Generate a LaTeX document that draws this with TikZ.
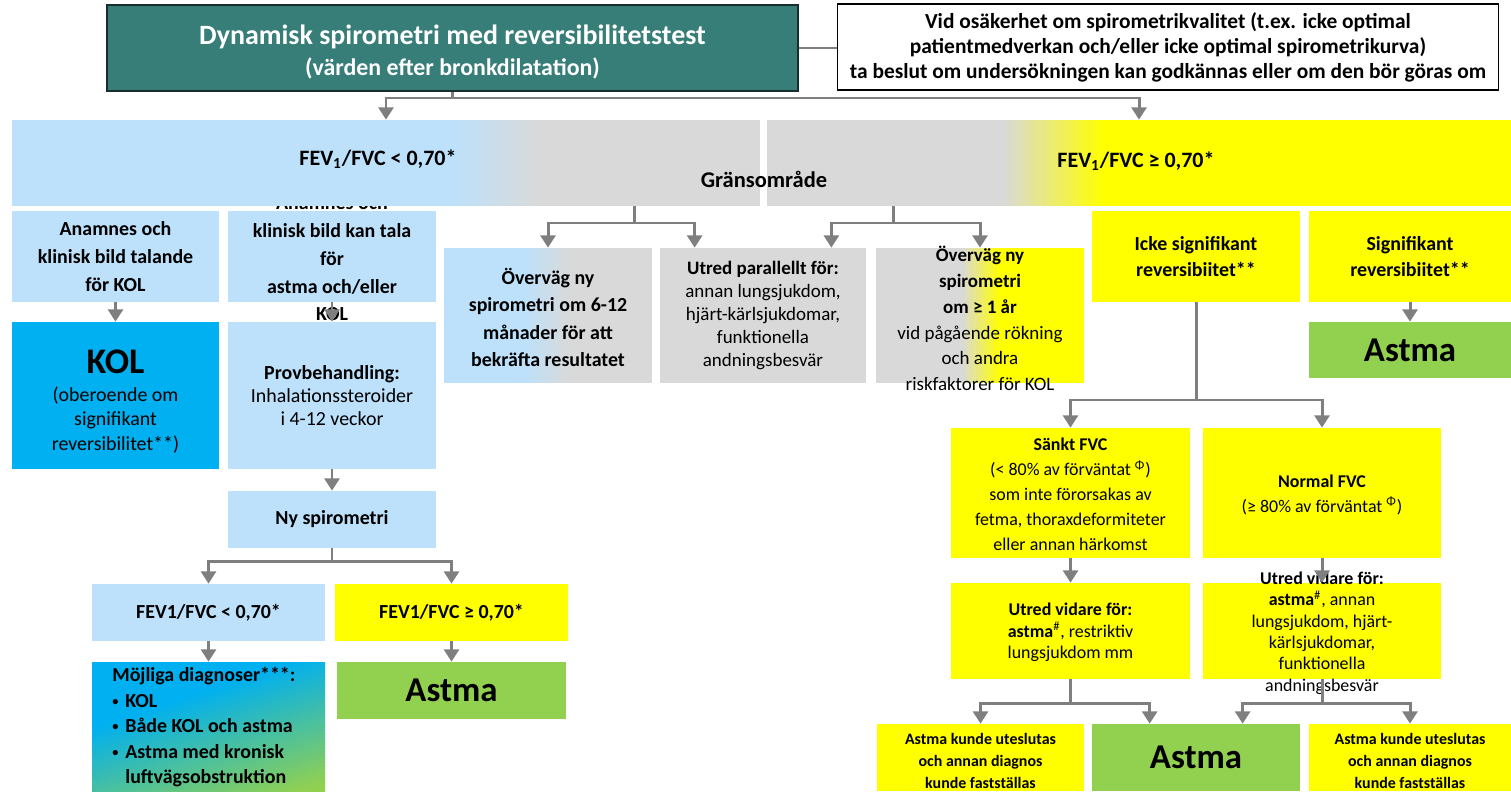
\documentclass[tikz,border=0pt]{standalone}
\usepackage{fontspec}
\setmainfont{Carlito}
\usetikzlibrary{arrows.meta,calc}

\definecolor{teal1}{RGB}{55,125,120}
\definecolor{tealdk}{RGB}{25,45,45}
\definecolor{lblue}{RGB}{189,225,251}
\definecolor{lgray}{RGB}{217,217,217}
\definecolor{kolblue}{RGB}{0,176,240}
\definecolor{ggreen}{RGB}{146,208,80}
\definecolor{yel}{RGB}{255,255,0}
\definecolor{agray}{RGB}{127,127,127}

\newcommand\fsz[2]{\fontsize{#1}{#2}\selectfont}
% horizontal colour ramp from #5 (left) to #6 (right) over a rectangle
\newcommand\hramp[6]{%
  \foreach \k in {0,...,23}{%
    \pgfmathsetmacro\xa{#1+(#3-#1)*\k/24}%
    \pgfmathsetmacro\xb{min(#3,#1+(#3-#1)*(\k+1.4)/24)}%
    \pgfmathsetmacro\mx{(\k+0.5)*100/24}%
    \fill[#6!\mx!#5] (\xa,#2) rectangle (\xb,#4);%
  }}
\newcommand\bul{\makebox[0.26cm][l]{\raisebox{1.2pt}{\fsz{7}{7}\textbullet}}}

\tikzset{
  box/.style={rectangle, inner sep=0pt, align=center, text=black},
  sz/.style 2 args={minimum width=#1*0.02cm, minimum height=#2*0.02cm},
  bl/.style={box, fill=lblue},
  yl/.style={box, fill=yel},
  gr/.style={box, fill=ggreen, font=\fsz{19.8}{22}\bfseries},
  conn/.style={draw=agray, line width=1.7pt},
  arr/.style={conn, -{Triangle[width=8.5pt,length=7pt]}},
  txt/.style={align=center, inner sep=0pt}
}

\begin{document}
\begin{tikzpicture}[x=0.02cm, y=-0.02cm]
\useasboundingbox (0,0) rectangle (1511,791);

% ---------- header ----------
\node[box, fill=teal1, draw=tealdk, line width=1pt, sz={691}{86}] (top) at (452.5,48) {};
\node[txt, text=white, font=\fsz{15.9}{17.6}\bfseries] (topt) at (452.5,52)
  {Dynamisk spirometri med reversibilitetstest\\{\fsz{13.6}{17.6}(värden efter bronkdilatation)}};
\node[box, fill=white, draw=black, line width=1pt, sz={661}{86},
      font=\fsz{12.2}{14.2}\bfseries] (note) at (1168,47)
  {Vid osäkerhet om spirometrikvalitet (t.ex. icke optimal\\
   patientmedverkan och/eller icke optimal spirometrikurva)\\
   ta beslut om undersökningen kan godkännas eller om den bör göras om};

% ---------- left column ----------
\node[bl, sz={207}{91}, font=\fsz{11.34}{16.1}\bfseries] (a1) at (115.5,256.5)
  {Anamnes och\\klinisk bild talande\\för KOL};
\node[bl, sz={208}{91}] (a2) at (332,256.5) {};
\node[txt, font=\fsz{11.34}{15.8}\bfseries] (a2t) at (332,258.5)
  {Anamnes och\\klinisk bild kan tala\\för\\astma och/eller\\KOL};

\node[box, fill=kolblue, sz={207}{147}] (kol) at (115.5,395.5) {};
\node[txt, font=\fsz{11.34}{13.9}] (kolt) at (115.5,401.5)
  {{\fsz{20.5}{20}\bfseries KOL}\\[2pt](oberoende om\\signifikant\\reversibilitet**)};
\node[bl, sz={208}{147}, font=\fsz{11.34}{13.3}] (prov) at (332,395.5)
  {\textbf{Provbehandling:}\\Inhalationssteroider\\i 4-12 veckor};
\node[bl, sz={208}{57}, font=\fsz{11.34}{15}\bfseries] (ny) at (332,519.5) {Ny spirometri};

\node[bl, sz={233}{57}, font=\fsz{11.34}{15}\bfseries] (fl) at (208.5,612.5) {FEV1/FVC < 0,70*};
\node[yl, sz={233}{57}, font=\fsz{11.34}{15}\bfseries] (fg) at (451.5,612.5) {FEV1/FVC ≥ 0,70*};

% diagonal blue-to-green fill of the diagnosis box
\begin{scope}
  \clip (92,662) rectangle (325,791);
  \foreach \k in {0,...,59}{
    \pgfmathsetmacro\sa{655+\k*3.4}
    \pgfmathsetmacro\sb{\sa+5}
    \pgfmathsetmacro\mixg{(\k+0.5)/60<0.32 ? 0 : min(100,((\k+0.5)/60-0.32)/0.62*100)}
    \fill[ggreen!\mixg!kolblue]
      ({\sa*0.316-400*0.949},{\sa*0.949+400*0.316}) --
      ({\sa*0.316+400*0.949},{\sa*0.949-400*0.316}) --
      ({\sb*0.316+400*0.949},{\sb*0.949-400*0.316}) --
      ({\sb*0.316-400*0.949},{\sb*0.949+400*0.316}) -- cycle;
  }
\end{scope}
\node[box, sz={233}{129}] (mojl) at (208.5,726.5) {};
\node[anchor=west, align=left, inner sep=0pt, font=\fsz{11.34}{14.5}\bfseries] (mojlt) at (112,727.5)
  {Möjliga diagnoser***:\\
   \bul KOL\\
   \bul Både KOL och astma\\
   \bul Astma med kronisk\\
   \hspace*{0.26cm}luftvägsobstruktion};
\node[gr, sz={229}{57}] (astL) at (451.5,690.5) {Astma};

% ---------- middle column ----------
\fill[lblue] (444,248) rectangle (525,383);
\fill[lgray] (569,248) rectangle (652,383);
\hramp{524}{248}{570}{383}{lblue}{lgray}
\node[box, sz={208}{135}] (mid1) at (548,315.5) {};
\node[txt, font=\fsz{11.34}{15.6}\bfseries] (mid1t) at (548,317.5)
  {Överväg ny\\spirometri om 6-12\\månader för att\\bekräfta resultatet};

\node[box, fill=lgray, sz={206}{135}, font=\fsz{10.8}{13.2}] (mid2) at (763,315.5)
  {\textbf{Utred parallellt för:}\\annan lungsjukdom,\\hjärt-kärlsjukdomar,\\funktionella\\andningsbesvär};

\fill[lgray] (876,248) rectangle (963,383);
\fill[yel] (999,248) rectangle (1084,383);
\hramp{962}{248}{1000}{383}{lgray}{yel}
\node[box, sz={208}{135}] (mid3) at (980,315.5) {};
\node[txt, font=\fsz{10.8}{14.7}] (mid3t) at (980,318.5)
  {\textbf{Överväg ny}\\\textbf{spirometri}\\\textbf{om ≥ 1 år}\\vid pågående rökning\\och andra\\riskfaktorer för KOL};

% ---------- right column ----------
\node[yl, sz={208}{91}, font=\fsz{11.34}{14.7}\bfseries] (icke) at (1196,256.5)
  {Icke signifikant\\reversibiitet**};
\node[yl, sz={202}{91}, font=\fsz{11.34}{14.7}\bfseries] (sig) at (1410,256.5)
  {Signifikant\\reversibiitet**};
\node[gr, sz={202}{56}] (astR) at (1410,350) {Astma};

\node[yl, sz={239}{130}] (sankt) at (1070.5,493) {};
\node[txt, font=\fsz{10.2}{14.2}] (sanktt) at (1070.5,494.5)
  {\textbf{Sänkt FVC}\\(< 80\% av förväntat \textsuperscript{Φ})\\som inte förorsakas av\\fetma, thoraxdeformiteter\\eller annan härkomst};
\node[yl, sz={238}{130}] (norm) at (1322,493) {};
\node[txt, font=\fsz{10.2}{14.2}] (normt) at (1322,494.5)
  {\textbf{Normal FVC}\\(≥ 80\% av förväntat \textsuperscript{Φ})};

\node[yl, sz={239}{96}] (uv1) at (1070.5,631) {};
\node[txt, font=\fsz{10.2}{12.2}] (uv1t) at (1070.5,632.5)
  {\textbf{Utred vidare för:}\\\textbf{astma}\textsuperscript{\#}, restriktiv\\lungsjukdom mm};
\node[yl, sz={238}{96}] (uv2) at (1322,631) {};
\node[txt, font=\fsz{10.2}{12.2}] (uv2t) at (1322,633)
  {\textbf{Utred vidare för:}\\\textbf{astma}\textsuperscript{\#}, annan\\lungsjukdom, hjärt-\\kärlsjukdomar,\\funktionella\\andningsbesvär};

\node[yl, sz={207}{67}] (botL) at (980.5,757.5) {};
\node[txt, font=\fsz{9.07}{12.5}\bfseries] (botLt) at (980.5,760.5)
  {Astma kunde uteslutas\\och annan diagnos\\kunde fastställas};
\node[gr, sz={208}{67}] (astB) at (1196,757.5) {Astma};
\node[yl, sz={202}{67}] (botR) at (1410,757.5) {};
\node[txt, font=\fsz{9.07}{12.5}\bfseries] (botRt) at (1410,760.5)
  {Astma kunde uteslutas\\och annan diagnos\\kunde fastställas};

% ---------- result band ----------
\fill[lblue] (12,120) rectangle (451,206);
\fill[lgray] (539,120) rectangle (760,206);
\hramp{450}{120}{540}{206}{lblue}{lgray}
\fill[lgray] (767,120) rectangle (1005,206);
\fill[yel] (1103,120) rectangle (1511,206);
\hramp{1004}{120}{1104}{206}{lgray}{yel}
\node[box, sz={748}{86}] (bandL) at (386,163) {};
\node[box, sz={744}{86}] (bandR) at (1139,163) {};
\node[txt, font=\fsz{12.5}{14}\bfseries] (tL) at (378,159) {FEV\textsubscript{1}/FVC < 0,70*};
\node[txt, font=\fsz{12.8}{14}\bfseries] (tG) at (764,179) {Gränsområde};
\node[txt, font=\fsz{12.5}{14}\bfseries] (tR) at (1136,161) {FEV\textsubscript{1}/FVC ≥ 0,70*};

% ---------- connectors ----------
\draw[draw=agray, line width=1pt] (top.east) -- (top.east -| note.west);
\coordinate (j0) at (452.5,98);
\draw[conn] (top.south) -- (j0);
\draw[arr] (j0) -| (bandL.north);
\draw[arr] (j0) -| (bandR.north);

\coordinate (g1) at (634,206);
\coordinate (g1j) at (634,223);
\draw[conn] (g1) -- (g1j);
\draw[arr] (g1j) -| (mid1.north);
\draw[arr] (g1j) -| ($(mid2.north west)+(35,0)$);
\coordinate (g2) at (893,206);
\coordinate (g2j) at (893,223);
\draw[conn] (g2) -- (g2j);
\draw[arr] (g2j) -| ($(mid2.north east)+(-35,0)$);
\draw[arr] (g2j) -| (mid3.north);

\draw[arr] (a1.south) -- (kol.north);
\draw[arr] (a2.south) -- (prov.north);
\draw[arr] (prov.south) -- (ny.north);
\coordinate (nyj) at (332,561);
\draw[conn] (ny.south) -- (nyj);
\draw[arr] (nyj) -| (fl.north);
\draw[arr] (nyj) -| (fg.north);
\draw[arr] (fl.south) -- (mojl.north);
\draw[arr] (fg.south) -- (astL.north);

\draw[arr] (sig.south) -- (astR.north);
\coordinate (ij) at (1196,400);
\draw[conn] (icke.south) -- (ij);
\draw[arr] (ij) -| (sankt.north);
\draw[arr] (ij) -| (norm.north);
\draw[arr] (sankt.south) -- (uv1.north);
\draw[arr] (norm.south) -- (uv2.north);
\coordinate (u1j) at (1070.5,703);
\draw[conn] (uv1.south) -- (u1j);
\draw[arr] (u1j) -| (botL.north);
\draw[arr] (u1j) -| ($(astB.north west)+(58,0)$);
\coordinate (u2j) at (1322,703);
\draw[conn] (uv2.south) -- (u2j);
\draw[arr] (u2j) -| ($(astB.north west)+(151,0)$);
\draw[arr] (u2j) -| (botR.north);
\end{tikzpicture}
\end{document}
